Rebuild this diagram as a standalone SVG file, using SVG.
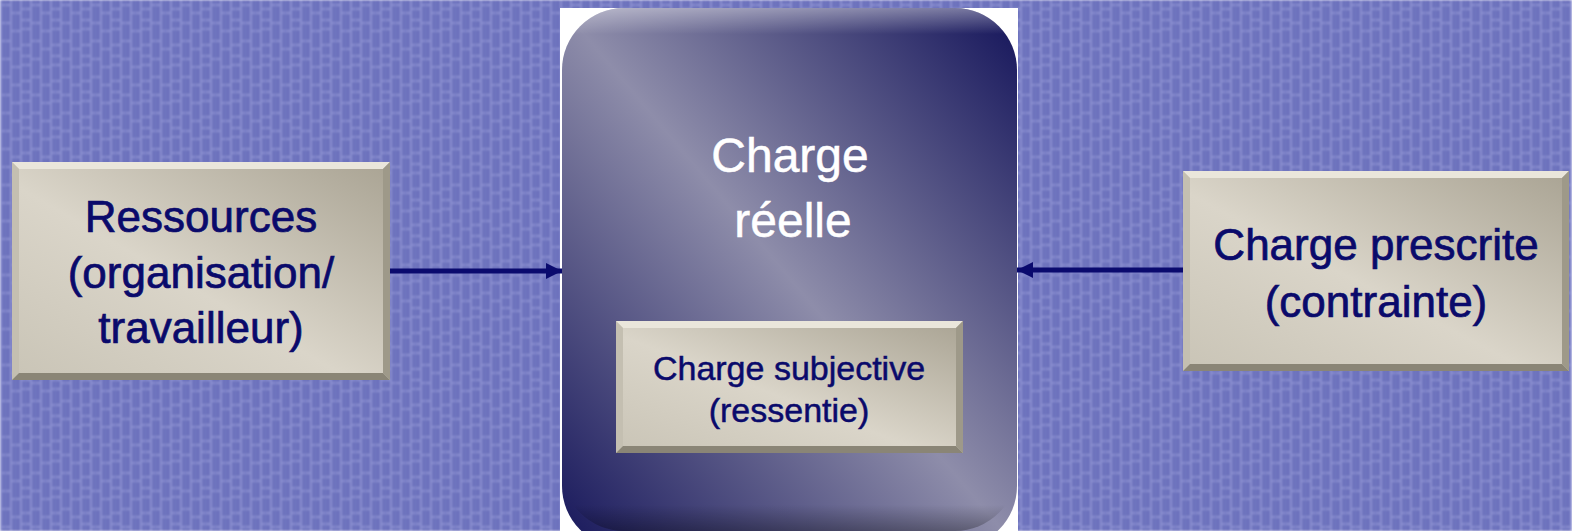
<svg xmlns="http://www.w3.org/2000/svg" width="1572" height="531" viewBox="0 0 1572 531">
  <defs>
    <!-- woven periwinkle backdrop: columns of soft bricks -->
    <pattern id="weave" width="30" height="36" patternUnits="userSpaceOnUse">
      <rect width="30" height="36" fill="#6C71BC"/>
      <g fill="#8A8FD0">
        <rect x="0" y="0" width="2" height="36"/>
        <rect x="10" y="0" width="2" height="36"/>
        <rect x="20" y="0" width="2" height="36"/>
        <rect x="0" y="4" width="10" height="2"/>
        <rect x="0" y="22" width="10" height="2"/>
        <rect x="10" y="12" width="10" height="2"/>
        <rect x="10" y="30" width="10" height="2"/>
        <rect x="20" y="8" width="10" height="2"/>
        <rect x="20" y="19" width="10" height="2"/>
        <rect x="20" y="28" width="10" height="2"/>
      </g>
      <g fill="#757AC4">
        <rect x="5" y="0" width="1" height="36"/>
        <rect x="15" y="0" width="1" height="36"/>
        <rect x="25" y="0" width="1" height="36"/>
      </g>
    </pattern>
    <filter id="soft" x="0" y="0" width="1" height="1">
      <feGaussianBlur stdDeviation="0.8"/>
    </filter>
    <linearGradient id="stone" x1="0" y1="1" x2="1" y2="0">
      <stop offset="0" stop-color="#C9C4B6"/>
      <stop offset="0.45" stop-color="#DAD5C9"/>
      <stop offset="1" stop-color="#A9A393"/>
    </linearGradient>
    <linearGradient id="core" x1="0" y1="1" x2="1" y2="0">
      <stop offset="0" stop-color="#16165A"/>
      <stop offset="0.5" stop-color="#8E8DAA"/>
      <stop offset="1" stop-color="#14145A"/>
    </linearGradient>
    <linearGradient id="rim" x1="0" y1="0" x2="0" y2="1">
      <stop offset="0" stop-color="#FFFFFF" stop-opacity="0.4"/>
      <stop offset="0.05" stop-color="#FFFFFF" stop-opacity="0"/>
      <stop offset="0.95" stop-color="#000000" stop-opacity="0"/>
      <stop offset="1" stop-color="#000000" stop-opacity="0.3"/>
    </linearGradient>
    <marker id="head" viewBox="0 0 10 10" refX="10" refY="5" markerWidth="3.2" markerHeight="3.2" orient="auto" markerUnits="strokeWidth">
      <path d="M0,0 L10,5 L0,10 Z" fill="#0A0A6E"/>
    </marker>
  </defs>
  <style>
    .lbl { font-family: "Liberation Sans", Arial, sans-serif; fill: #0A0A6B; stroke: #0A0A6B; stroke-width: 0.7; text-anchor: middle; }
    .big { font-size: 44px; }
    .mid { font-size: 34px; stroke-width: 0.5; }
    .white { font-family: "Liberation Sans", Arial, sans-serif; fill: #FFFFFF; stroke: #FFFFFF; stroke-width: 0.5; text-anchor: middle; font-size: 48px; }
    .lite { fill: #EAE6DB; }
    .dark { fill: #8A8576; }
    .side { fill: #C4BFB1; }
    .edge { fill: #9E9989; }
    .wire { stroke: #0A0A6E; stroke-width: 5; fill: none; }
  </style>

  <rect width="1572" height="531" fill="url(#weave)" filter="url(#soft)"/>

  <!-- left node -->
  <g id="ressources">
    <rect x="12" y="162" width="378" height="218" fill="url(#stone)"/>
    <polygon class="lite" points="12,162 390,162 383,169 19,169"/>
    <polygon class="side" points="12,162 19,169 19,373 12,380"/>
    <polygon class="edge" points="390,162 390,380 383,373 383,169"/>
    <polygon class="dark" points="12,380 19,373 383,373 390,380"/>
    <text class="lbl big" x="201" y="232">Ressources</text>
    <text class="lbl big" x="201" y="288">(organisation/</text>
    <text class="lbl big" x="201" y="343">travailleur)</text>
  </g>

  <!-- central node -->
  <g id="charge-reelle">
    <rect x="560" y="8" width="458" height="523" fill="#FFFFFF"/>
    <rect x="562" y="8" width="455" height="540" rx="62" fill="url(#core)"/>
    <rect x="562" y="8" width="455" height="523" rx="62" fill="url(#rim)"/>
    <text class="white" x="790" y="172">Charge</text>
    <text class="white" x="793" y="237">réelle</text>
  </g>

  <!-- inner node -->
  <g id="charge-subjective">
    <rect x="616" y="321" width="347" height="132" fill="url(#stone)"/>
    <polygon class="lite" points="616,321 963,321 956,328 623,328"/>
    <polygon class="side" points="616,321 623,328 623,446 616,453"/>
    <polygon class="edge" points="963,321 963,453 956,446 956,328"/>
    <polygon class="dark" points="616,453 623,446 956,446 963,453"/>
    <text class="lbl mid" x="789" y="380">Charge subjective</text>
    <text class="lbl mid" x="789" y="422">(ressentie)</text>
  </g>

  <!-- right node -->
  <g id="charge-prescrite">
    <rect x="1183" y="171" width="386" height="200" fill="url(#stone)"/>
    <polygon class="lite" points="1183,171 1569,171 1562,178 1190,178"/>
    <polygon class="side" points="1183,171 1190,178 1190,364 1183,371"/>
    <polygon class="edge" points="1569,171 1569,371 1562,364 1562,178"/>
    <polygon class="dark" points="1183,371 1190,364 1562,364 1569,371"/>
    <text class="lbl big" x="1376" y="260">Charge prescrite</text>
    <text class="lbl big" x="1376" y="317">(contrainte)</text>
  </g>

  <g id="connectors">
    <line class="wire" x1="390" y1="271" x2="562" y2="271" marker-end="url(#head)"/>
    <line class="wire" x1="1183" y1="270" x2="1017" y2="270" marker-end="url(#head)"/>
  </g>
</svg>
